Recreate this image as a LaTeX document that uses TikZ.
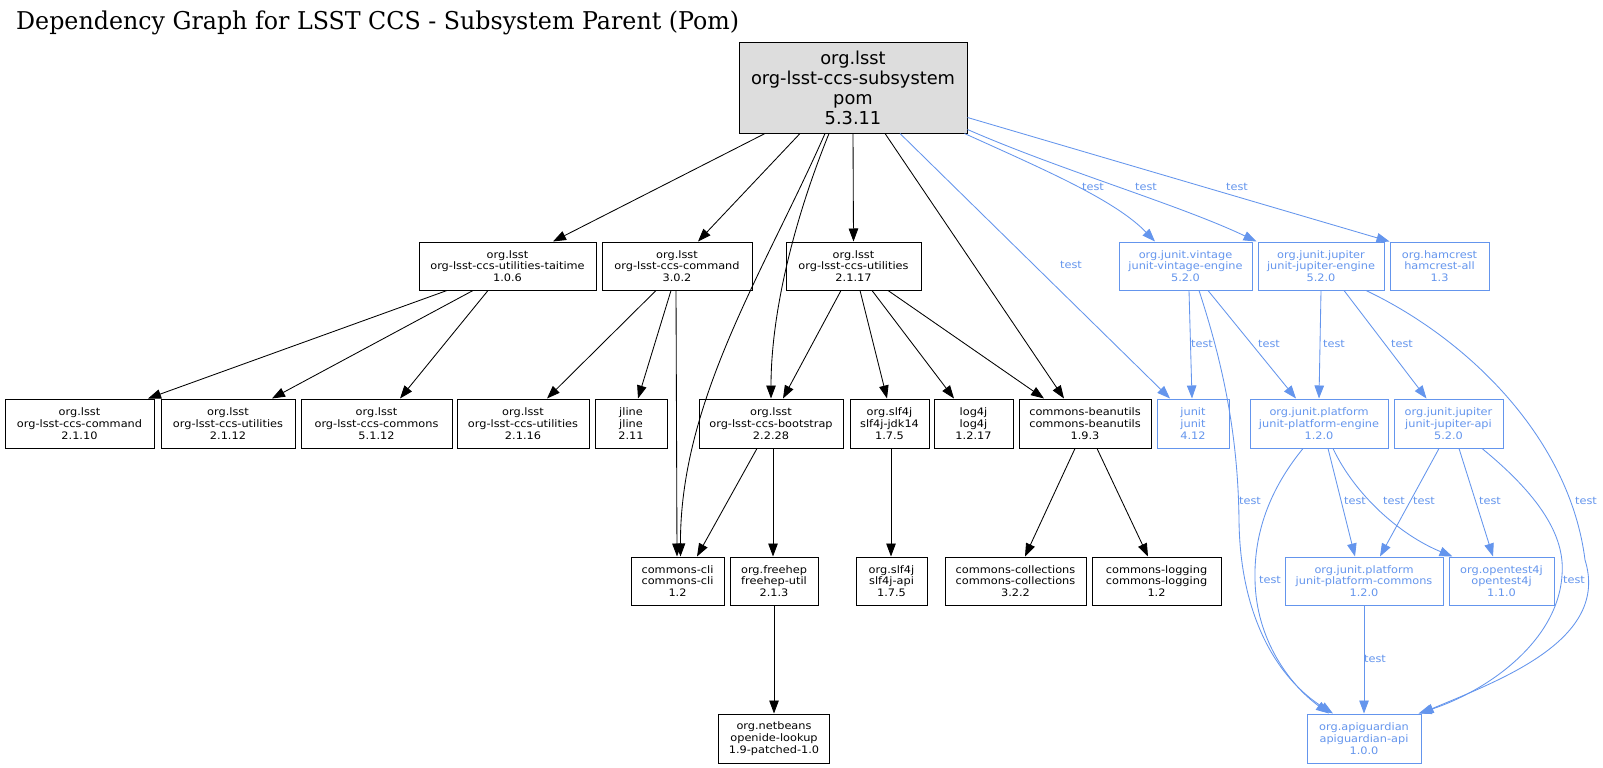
\documentclass[tikz,border=0pt]{standalone}
\usepackage{fontspec}
\usetikzlibrary{arrows.meta}
\newfontfamily\nodefont[FakeStretch=1.1]{DejaVu Sans}
\newfontfamily\rootfont{DejaVu Sans}
\newfontfamily\titlefont{DejaVu Serif}
\definecolor{cblue}{HTML}{6495ED}
\definecolor{rootgray}{HTML}{DDDDDD}
\begin{document}
\begin{tikzpicture}[x=1pt,y=-1pt,
  nbox/.style={draw=black, line width=1pt, inner sep=0pt, align=center,
    font=\fontsize{10.3}{11.7}\selectfont\nodefont, minimum height=48pt},
  bnode/.style={nbox, draw=cblue, text=cblue},
  blk/.style={draw=black, line width=0.85pt, -{Triangle[length=13pt,width=9.5pt]}},
  blu/.style={draw=cblue, line width=0.85pt, -{Triangle[length=13pt,width=9.5pt]}},
  lbl/.style={text=cblue, font=\fontsize{10.3}{11.7}\selectfont\nodefont, inner sep=0pt}
]
\fill[white] (0,0) rectangle (1603,768);
\useasboundingbox (0,0) rectangle (1603,768);

\node[anchor=base west, inner sep=0pt] (title) at (16,30)
  {\resizebox{723pt}{\height}{\fontsize{24.5}{28}\selectfont\titlefont Dependency Graph for LSST CCS - Subsystem Parent (Pom)}};

% root
\node[nbox, fill=rootgray, minimum width=228pt, minimum height=90pt,
  font=\fontsize{17.8}{19.8}\selectfont\rootfont] (root) at (853,88)
  {org.lsst\\org-lsst-ccs-subsystem\\pom\\5.3.11};

% row 1
\node[nbox, minimum width=177pt] (taitime) at (507.5,266) {org.lsst\\org-lsst-ccs-utilities-taitime\\1.0.6};
\node[nbox, minimum width=150pt] (cmd302) at (677,266) {org.lsst\\org-lsst-ccs-command\\3.0.2};
\node[nbox, minimum width=135pt] (util217) at (853.5,266) {org.lsst\\org-lsst-ccs-utilities\\2.1.17};
\node[bnode, minimum width=133pt] (vintage) at (1185.5,266) {org.junit.vintage\\junit-vintage-engine\\5.2.0};
\node[bnode, minimum width=126pt] (jupeng) at (1321,266) {org.junit.jupiter\\junit-jupiter-engine\\5.2.0};
\node[bnode, minimum width=99pt] (hamcrest) at (1439.5,266) {org.hamcrest\\hamcrest-all\\1.3};

% row 2
\node[nbox, minimum width=149pt, minimum height=49pt] (cmd2110) at (79.5,423.5) {org.lsst\\org-lsst-ccs-command\\2.1.10};
\node[nbox, minimum width=134pt, minimum height=49pt] (util2112) at (228,423.5) {org.lsst\\org-lsst-ccs-utilities\\2.1.12};
\node[nbox, minimum width=151pt, minimum height=49pt] (commons) at (376.5,423.5) {org.lsst\\org-lsst-ccs-commons\\5.1.12};
\node[nbox, minimum width=132pt, minimum height=49pt] (util2116) at (523,423.5) {org.lsst\\org-lsst-ccs-utilities\\2.1.16};
\node[nbox, minimum width=72pt, minimum height=49pt] (jline) at (631,423.5) {jline\\jline\\2.11};
\node[nbox, minimum width=144pt, minimum height=49pt] (bootstrap) at (771,423.5) {org.lsst\\org-lsst-ccs-bootstrap\\2.2.28};
\node[nbox, minimum width=79pt, minimum height=49pt] (jdk14) at (889.5,423.5) {org.slf4j\\slf4j-jdk14\\1.7.5};
\node[nbox, minimum width=79pt, minimum height=49pt] (log4j) at (973.5,423.5) {log4j\\log4j\\1.2.17};
\node[nbox, minimum width=132pt, minimum height=49pt] (beanutils) at (1085,423.5) {commons-beanutils\\commons-beanutils\\1.9.3};
\node[bnode, minimum width=72pt, minimum height=49pt] (junit) at (1193,423.5) {junit\\junit\\4.12};
\node[bnode, minimum width=138pt, minimum height=49pt] (plateng) at (1319,423.5) {org.junit.platform\\junit-platform-engine\\1.2.0};
\node[bnode, minimum width=109pt, minimum height=49pt] (jupapi) at (1448.5,423.5) {org.junit.jupiter\\junit-jupiter-api\\5.2.0};

% row 3
\node[nbox, minimum width=93pt] (cli) at (677.5,581) {commons-cli\\commons-cli\\1.2};
\node[nbox, minimum width=88pt] (freehep) at (774,581) {org.freehep\\freehep-util\\2.1.3};
\node[nbox, minimum width=71pt] (slfapi) at (891.5,581) {org.slf4j\\slf4j-api\\1.7.5};
\node[nbox, minimum width=141pt] (collections) at (1015.5,581) {commons-collections\\commons-collections\\3.2.2};
\node[nbox, minimum width=129pt] (logging) at (1156.5,581) {commons-logging\\commons-logging\\1.2};
\node[bnode, minimum width=158pt] (platcommons) at (1364,581) {org.junit.platform\\junit-platform-commons\\1.2.0};
\node[bnode, minimum width=105pt] (opentest) at (1501.5,581) {org.opentest4j\\opentest4j\\1.1.0};

% row 4
\node[nbox, minimum width=111pt, minimum height=49pt] (openide) at (774,738.5) {org.netbeans\\openide-lookup\\1.9-patched-1.0};
\node[bnode, minimum width=114pt, minimum height=49pt] (apiguardian) at (1364,738.5) {org.apiguardian\\apiguardian-api\\1.0.0};

% black edges from root
\draw[blk] ([xshift=-88pt]root.south) -- ([xshift=45.5pt]taitime.north);
\draw[blk] ([xshift=-53pt]root.south) -- ([xshift=21pt]cmd302.north);
\draw[blk] ([xshift=-28pt]root.south) .. controls (765,270) and (680,400) .. ([xshift=3pt]cli.north);
\draw[blk] ([xshift=-24pt]root.south) .. controls (790,230) and (771,320) .. (bootstrap.north);
\draw[blk] (root.south) -- (util217.north);
\draw[blk] ([xshift=32pt]root.south) -- ([xshift=-21pt]beanutils.north);

% black edges lower
\draw[blk] ([xshift=-60.5pt]taitime.south) -- ([xshift=68.5pt]cmd2110.north);
\draw[blk] ([xshift=-34.5pt]taitime.south) -- ([xshift=44pt]util2112.north);
\draw[blk] ([xshift=-19.5pt]taitime.south) -- ([xshift=23.5pt]commons.north);
\draw[blk] ([xshift=-21pt]cmd302.south) -- ([xshift=24pt]util2116.north);
\draw[blk] ([xshift=-6pt]cmd302.south) -- ([xshift=7pt]jline.north);
\draw[blk] ([xshift=-1pt]cmd302.south) -- ([xshift=-0.5pt]cli.north);
\draw[blk] ([xshift=-12.5pt]util217.south) -- ([xshift=12pt]bootstrap.north);
\draw[blk] ([xshift=6.5pt]util217.south) -- ([xshift=-2.5pt]jdk14.north);
\draw[blk] ([xshift=18.5pt]util217.south) -- ([xshift=-19.5pt]log4j.north);
\draw[blk] ([xshift=34.5pt]util217.south) -- ([xshift=-41pt]beanutils.north);
\draw[blk] ([xshift=-14pt]bootstrap.south) -- ([xshift=19.5pt]cli.north);
\draw[blk] ([xshift=2pt]bootstrap.south) -- ([xshift=-1pt]freehep.north);
\draw[blk] ([xshift=1.5pt]jdk14.south) -- ([xshift=-0.5pt]slfapi.north);
\draw[blk] ([xshift=-10pt]beanutils.south) -- ([xshift=9.5pt]collections.north);
\draw[blk] ([xshift=12pt]beanutils.south) -- ([xshift=-8.5pt]logging.north);
\draw[blk] (freehep.south) -- (openide.north);

% blue edges from root
\draw[blu] ([xshift=47pt]root.south) -- ([xshift=-23pt]junit.north);
\draw[blu] ([xshift=-3pt]root.south east) .. controls (1045,170) and (1115,200) .. ([xshift=-30.5pt]vintage.north);
\draw[blu] ([yshift=4pt]root.south east) .. controls (1060,170) and (1180,205) .. ([xshift=-1pt]jupeng.north west);
\draw[blu] ([yshift=16pt]root.south east) -- (hamcrest.north west);

% blue edges lower
\draw[blu] ([xshift=3.5pt]vintage.south) -- ([xshift=-1pt]junit.north);
\draw[blu] ([xshift=13.5pt]vintage.south) .. controls (1225,370) and (1238,440) .. (1239,520)
  .. controls (1240,620) and (1280,680) .. ([xshift=-31pt]apiguardian.north);
\draw[blu] ([xshift=22.5pt]vintage.south) -- ([xshift=-23pt]plateng.north);
\draw[blu] (jupeng.south) -- (plateng.north);
\draw[blu] ([xshift=23pt]jupeng.south) -- ([xshift=-22pt]jupapi.north);
\draw[blu] ([xshift=45pt]jupeng.south) .. controls (1470,340) and (1570,440) .. (1585,560)
  .. controls (1610,640) and (1500,680) .. ([xshift=-1pt]apiguardian.north east);
\draw[blu] ([xshift=-16pt]plateng.south) .. controls (1265,495) and (1254,540) .. (1255,580)
  .. controls (1256,640) and (1290,685) .. ([xshift=-35pt]apiguardian.north);
\draw[blu] ([xshift=9pt]plateng.south) -- ([xshift=-9pt]platcommons.north);
\draw[blu] ([xshift=14pt]plateng.south) .. controls (1355,495) and (1400,535) .. ([xshift=4pt]opentest.north west);
\draw[blu] ([xshift=-9.5pt]jupapi.south) -- ([xshift=16pt]platcommons.north);
\draw[blu] ([xshift=10.5pt]jupapi.south) -- ([xshift=-8.5pt]opentest.north);
\draw[blu] ([xshift=33.5pt]jupapi.south) .. controls (1545,500) and (1565,540) .. (1562,575)
  .. controls (1558,640) and (1490,690) .. ([xshift=-3pt]apiguardian.north east);
\draw[blu] (platcommons.south) -- (apiguardian.north);

% labels
\node[lbl] (l1) at (1093,187) {test};
\node[lbl] (l2) at (1146,187) {test};
\node[lbl] (l3) at (1237,187) {test};
\node[lbl] (l4) at (1071,265) {test};
\node[lbl] (l5) at (1202,344) {test};
\node[lbl] (l6) at (1269,344) {test};
\node[lbl] (l7) at (1334,344) {test};
\node[lbl] (l8) at (1402,344) {test};
\node[lbl] (l9) at (1250,501) {test};
\node[lbl] (l10) at (1355,501) {test};
\node[lbl] (l11) at (1394,501) {test};
\node[lbl] (l12) at (1424,501) {test};
\node[lbl] (l13) at (1490,501) {test};
\node[lbl] (l14) at (1586,501) {test};
\node[lbl] (l15) at (1270,580) {test};
\node[lbl] (l16) at (1574,580) {test};
\node[lbl] (l17) at (1375,659) {test};
\end{tikzpicture}
\end{document}
